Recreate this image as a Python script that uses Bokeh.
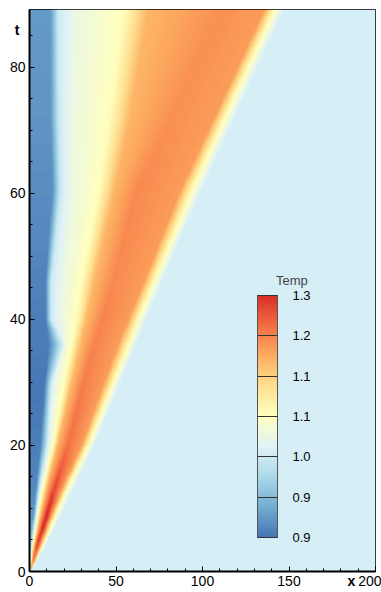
import numpy as np
from bokeh.plotting import figure
from bokeh.models import (LinearColorMapper, ColorBar, FixedTicker, Label, LinearAxis,
                          PrintfTickFormatter, Range1d)
from bokeh.embed import file_html
from bokeh.resources import INLINE

# ---------------- data ----------------
# key times (t) at which the temperature profile was read
t_key = [0, 4, 8.5, 13, 20, 30, 36, 40, 46, 60.5, 72, 90]

# x-positions of the profile features at each key time
x_blue_edge   = [0.0, 0.5, 2.0, 3.5, 6.0, 8.5, 11.0, 9.0, 9.0, 13.0, 12.0, 12.0]
x_white       = [0.05, 1.0, 3.2, 5.5, 10.0, 12.5, 19.0, 12.5, 12.5, 18.0, 17.0, 16.5]
x_pale        = [0.1, 1.3, 3.8, 6.5, 11.5, 14.5, 20.0, 18.0, 19.0, 24.0, 24.0, 26.0]
x_yellow_in   = [0.15, 1.7, 4.5, 7.5, 13.5, 20.0, 24.0, 27.0, 30.0, 40.0, 46.0, 55.0]
x_orange_in   = [0.2, 2.5, 6.0, 9.5, 16.0, 24.5, 29.5, 33.0, 37.5, 49.0, 58.0, 69.0]
x_peak        = [0.3, 4.0, 9.5, 14.0, 22.0, 31.0, 37.0, 42.0, 48.0, 62.0, 82.0, 112.0]
x_orange_out  = [0.4, 6.0, 12.0, 18.5, 30.0, 43.0, 51.0, 57.0, 66.0, 87.0, 106.5, 137.0]
x_yellow_out  = [0.5, 7.5, 14.5, 21.5, 34.0, 48.5, 57.5, 63.0, 72.0, 94.0, 113.0, 143.0]
x_shock       = [0.6, 9.0, 17.5, 25.5, 37.5, 52.5, 61.5, 67.5, 76.5, 99.5, 118.5, 148.5]

# temperatures at the wall and at the hot peak at each key time
temp_wall = [1.0, 0.95, 0.90, 0.885, 0.875, 0.87, 0.875, 0.875, 0.88, 0.89, 0.895, 0.90]
temp_peak = [1.15, 1.26, 1.285, 1.25, 1.215, 1.205, 1.20, 1.20, 1.195, 1.195, 1.19, 1.19]

# temperatures of the intermediate features
temp_white, temp_pale, temp_yellow_in = 1.0, 1.035, 1.07
temp_orange_in, temp_orange_out, temp_yellow_out = 1.16, 1.18, 1.07
temp_ambient = 1.007

# colour bar levels (labels shown rounded to one decimal)
levels = [0.8667, 0.9333, 1.0, 1.0667, 1.1333, 1.2, 1.2667]

X_MAX = 200.0
T_MAX = 89.2
x_ticks = [0, 50, 100, 150, 200]
t_ticks = [0, 20, 40, 60, 80]
T_TITLE_AT = 86     # t position of the "t" axis title
X_TITLE_AT = 186    # x position of the "x" axis title

# ---------------- colour map ----------------
stop_vals = [0.817, 0.867, 0.917, 0.967, 1.017, 1.067, 1.117, 1.167, 1.217, 1.267, 1.317]
stop_cols = ['#313695', '#4575b4', '#74add1', '#abd9e9', '#e0f3f8', '#ffffbf',
             '#fee090', '#fdae61', '#f46d43', '#d73027', '#a50026']


def hex2rgb(h):
    return np.array([int(h[i:i + 2], 16) for i in (1, 3, 5)], dtype=float)


stop_rgb = np.array([hex2rgb(c) for c in stop_cols])


def make_palette(lo, hi, n=256):
    vals = np.linspace(lo, hi, n)
    out = []
    for v in vals:
        rgb = [np.interp(v, stop_vals, stop_rgb[:, k]) for k in range(3)]
        out.append('#%02x%02x%02x' % tuple(int(round(c)) for c in rgb))
    return out


img_mapper = LinearColorMapper(palette=make_palette(0.817, 1.317), low=0.817, high=1.317)
cb_mapper = LinearColorMapper(palette=make_palette(levels[0], levels[-1]),
                              low=levels[0], high=levels[-1])

# ---------------- build the field from the read profiles ----------------
feature_x = [x_blue_edge, x_white, x_pale, x_yellow_in, x_orange_in, x_peak,
             x_orange_out, x_yellow_out, x_shock]
nx, ny = 500, 600
xg = np.linspace(0, X_MAX, nx)
tg = np.linspace(0, T_MAX, ny)
field = np.empty((ny, nx))
for j, t in enumerate(tg):
    pos = [0.0] + [float(np.interp(t, t_key, arr)) for arr in feature_x] + [X_MAX]
    tw = float(np.interp(t, t_key, temp_wall))
    tp = float(np.interp(t, t_key, temp_peak))
    tmp = [tw, tw, temp_white, temp_pale, temp_yellow_in, temp_orange_in, tp,
           temp_orange_out, temp_yellow_out, temp_ambient, temp_ambient]
    field[j] = np.interp(xg, pos, tmp)

# ---------------- figure ----------------
p = figure(width=381, height=592, x_range=Range1d(0, X_MAX), y_range=Range1d(0, T_MAX),
           output_backend="svg", toolbar_location=None,
           min_border_left=29, min_border_right=6, min_border_top=9, min_border_bottom=21)
p.image(image=[field], x=0, y=0, dw=X_MAX, dh=T_MAX, color_mapper=img_mapper)

p.grid.visible = False
p.outline_line_color = 'black'
p.outline_line_width = 1
p.outline_line_alpha = 1
p.background_fill_color = 'white'

p.xaxis.ticker = FixedTicker(ticks=x_ticks, minor_ticks=list(range(0, 201, 10)))
p.yaxis.ticker = FixedTicker(ticks=t_ticks, minor_ticks=list(range(0, 90, 5)))
for ax in (p.xaxis, p.yaxis):
    ax.major_tick_in = 5
    ax.major_tick_out = 0
    ax.minor_tick_in = 3
    ax.minor_tick_out = 0
    ax.axis_line_width = 2
    ax.axis_line_color = 'black'
    ax.major_tick_line_color = 'black'
    ax.minor_tick_line_color = 'black'
    ax.major_label_text_font = 'Liberation Sans'
    ax.major_label_text_font_size = '14px'
    ax.major_label_text_color = 'black'
    ax.major_label_standoff = 4

# axis titles ("t" at the top of the left axis, "x" at the right end of the bottom axis)
t_title_axis = LinearAxis(ticker=FixedTicker(ticks=[T_TITLE_AT], minor_ticks=[]),
                          major_label_overrides={T_TITLE_AT: 't'},
                          axis_line_color=None, major_tick_line_color=None,
                          minor_tick_line_color=None, major_tick_in=0, major_tick_out=0,
                          major_label_standoff=-13, major_label_text_font='Liberation Sans',
                          major_label_text_font_size='14px',
                          major_label_text_font_style='bold',
                          major_label_text_color='black')
p.add_layout(t_title_axis, 'left')
x_title_axis = LinearAxis(ticker=FixedTicker(ticks=[X_TITLE_AT], minor_ticks=[]),
                          major_label_overrides={X_TITLE_AT: 'x'},
                          axis_line_color=None, major_tick_line_color=None,
                          minor_tick_line_color=None, major_tick_in=0, major_tick_out=0,
                          major_label_standoff=-16, major_label_text_font='Liberation Sans',
                          major_label_text_font_size='14px',
                          major_label_text_font_style='bold',
                          major_label_text_color='black')
p.add_layout(x_title_axis, 'below')

p.add_layout(Label(x=142.5, y=46.2, text='Temp', text_font='Liberation Sans',
                   text_font_size='13px', text_align='left', text_baseline='middle'))

cb = ColorBar(color_mapper=cb_mapper, ticker=FixedTicker(ticks=levels),
              formatter=PrintfTickFormatter(format='%.1f'),
              orientation='vertical', width=20, height=242, location=(228, 34),
              padding=0, margin=0, major_tick_in=20, major_tick_out=0,
              major_tick_line_color='#333333', bar_line_color='#555555',
              label_standoff=15, major_label_text_font='Liberation Sans',
              major_label_text_font_size='13px', major_label_text_color='black',
              background_fill_alpha=0, border_line_color=None)
p.add_layout(cb)

open("out.html", "w").write(file_html(p, INLINE))
